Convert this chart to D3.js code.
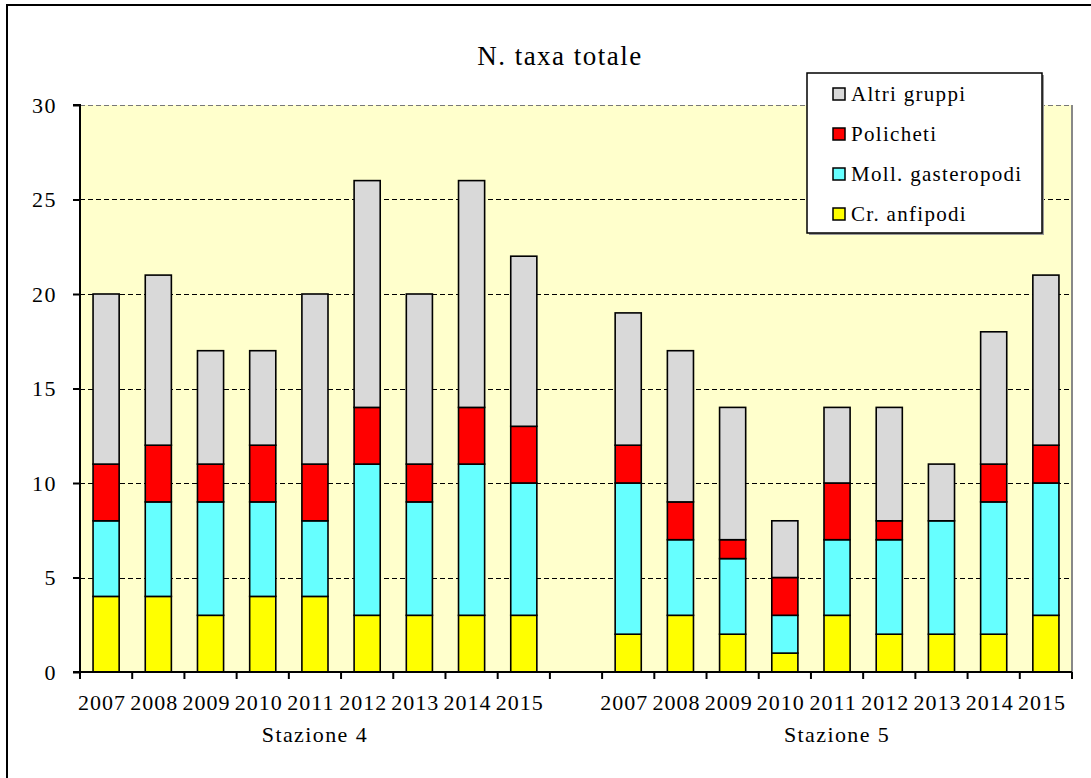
<!DOCTYPE html>
<html>
<head>
<meta charset="utf-8">
<script src="https://cdn.jsdelivr.net/npm/d3@7"></script>
<style>
  html, body { margin: 0; padding: 0; background: #fff; }
  svg { display: block; }
</style>
</head>
<body>
<svg id="chart" width="1091" height="778"></svg>
<script>
// Years per station and slot keys (an empty slot separates the two stations)
const years = ["2007","2008","2009","2010","2011","2012","2013","2014","2015"];
const stations = ["Stazione 4", "Stazione 5"];
const slots = [
  ...years.map(y => "S4-" + y),
  "gap",
  ...years.map(y => "S5-" + y)
];

// Number of taxa per group, Stazione 4 then Stazione 5
const anfipodiS4    = [4, 4, 3, 4, 4, 3, 3, 3, 3];
const gasteropodiS4 = [4, 5, 6, 5, 4, 8, 6, 8, 7];
const polichetiS4   = [3, 3, 2, 3, 3, 3, 2, 3, 3];
const altriS4       = [9, 9, 6, 5, 9, 12, 9, 12, 9];

const anfipodiS5    = [2, 3, 2, 1, 3, 2, 2, 2, 3];
const gasteropodiS5 = [8, 4, 4, 2, 4, 5, 6, 7, 7];
const polichetiS5   = [2, 2, 1, 2, 3, 1, 0, 2, 2];
const altriS5       = [7, 8, 7, 3, 4, 6, 3, 7, 9];

const seriesKeys = ["anfipodi", "gasteropodi", "policheti", "altri"];
const seriesLabels = {
  anfipodi: "Cr. anfipodi",
  gasteropodi: "Moll. gasteropodi",
  policheti: "Policheti",
  altri: "Altri gruppi"
};
const seriesColors = {
  anfipodi: "#FFFF00",
  gasteropodi: "#66FFFF",
  policheti: "#FF0000",
  altri: "#D9D9D9"
};
const yTicks = [0, 5, 10, 15, 20, 25, 30];

// Build the table for d3.stack
const rows = [];
years.forEach((y, i) => rows.push({
  key: "S4-" + y, year: y,
  anfipodi: anfipodiS4[i], gasteropodi: gasteropodiS4[i],
  policheti: polichetiS4[i], altri: altriS4[i]
}));
years.forEach((y, i) => rows.push({
  key: "S5-" + y, year: y,
  anfipodi: anfipodiS5[i], gasteropodi: gasteropodiS5[i],
  policheti: polichetiS5[i], altri: altriS5[i]
}));

const FONT = "Liberation Serif";
const svg = d3.select("#chart");
const plot = { left: 80, right: 1072, top: 105, bottom: 672 };

// Outer frame
svg.append("rect")
  .attr("x", 7).attr("y", 5).attr("width", 1100).attr("height", 790)
  .attr("fill", "#fff").attr("stroke", "#000").attr("stroke-width", 2);

const x = d3.scaleBand().domain(slots).range([plot.left, plot.right]).padding(0);
const y = d3.scaleLinear().domain([0, 30]).range([plot.bottom, plot.top]);

// Plot background
svg.append("rect")
  .attr("x", plot.left).attr("y", plot.top)
  .attr("width", plot.right - plot.left).attr("height", plot.bottom - plot.top)
  .attr("fill", "#FFFFCC");

// Right border of plot area
svg.append("line")
  .attr("x1", plot.right).attr("x2", plot.right)
  .attr("y1", plot.top).attr("y2", plot.bottom)
  .attr("stroke", "#888").attr("stroke-width", 2);

// Dashed gridlines
svg.append("g").selectAll("line")
  .data(yTicks.filter(t => t > 0))
  .join("line")
  .attr("x1", plot.left).attr("x2", plot.right)
  .attr("y1", d => Math.round(y(d)) + 0.5).attr("y2", d => Math.round(y(d)) + 0.5)
  .attr("stroke", d => d === 30 ? "#777" : "#000")
  .attr("stroke-width", 1.2)
  .attr("stroke-dasharray", "5,3");

// Stacked bars
const stacked = d3.stack().keys(seriesKeys)(rows);
const barW = x.bandwidth() * 0.5;

svg.append("g").selectAll("g")
  .data(stacked)
  .join("g")
  .attr("fill", d => seriesColors[d.key])
  .selectAll("rect")
  .data(d => d.filter(p => p[1] - p[0] > 0))
  .join("rect")
  .attr("x", d => x(d.data.key) + (x.bandwidth() - barW) / 2)
  .attr("y", d => y(d[1]))
  .attr("width", barW)
  .attr("height", d => y(d[0]) - y(d[1]))
  .attr("stroke", "#000")
  .attr("stroke-width", 1.6);

// Y axis
const yAxis = d3.axisLeft(y).tickValues(yTicks).tickSize(7).tickPadding(16);
const gy = svg.append("g").attr("transform", `translate(${plot.left},0)`).call(yAxis);
gy.attr("font-family", null).attr("font-size", null);
gy.select(".domain").attr("stroke", "#000").attr("stroke-width", 2)
  .attr("d", `M-7,${plot.top}H0V${plot.bottom}`);
gy.selectAll(".tick line").attr("stroke", "#000").attr("stroke-width", 2);
gy.selectAll(".tick text")
  .attr("font-family", FONT).attr("font-size", 22)
  .attr("letter-spacing", "1.5px")
  .attr("fill", "#000")
  .attr("dy", "0.32em");

// X axis: baseline with ticks at slot boundaries
const gx = svg.append("g");
gx.append("line")
  .attr("x1", plot.left - 7).attr("x2", plot.right)
  .attr("y1", plot.bottom).attr("y2", plot.bottom)
  .attr("stroke", "#000").attr("stroke-width", 2);
const boundaries = slots.map(s => x(s)).concat([plot.right]);
gx.selectAll("line.tick")
  .data(boundaries)
  .join("line")
  .attr("class", "tick")
  .attr("x1", d => d).attr("x2", d => d)
  .attr("y1", plot.bottom).attr("y2", plot.bottom + 7)
  .attr("stroke", "#000").attr("stroke-width", 2);

// Year labels
gx.selectAll("text.year")
  .data(rows)
  .join("text")
  .attr("class", "year")
  .attr("x", d => x(d.key) + x.bandwidth() / 2 - 4)
  .attr("y", 710)
  .attr("text-anchor", "middle")
  .attr("font-family", FONT)
  .attr("font-size", 22)
  .attr("letter-spacing", "1px")
  .text(d => d.year);

// Station labels, centered under each group of years
const stationCenters = [
  (x("S4-2007") + x("S4-2015") + x.bandwidth()) / 2,
  (x("S5-2007") + x("S5-2015") + x.bandwidth()) / 2
];
gx.selectAll("text.station")
  .data(stations)
  .join("text")
  .attr("class", "station")
  .attr("x", (d, i) => stationCenters[i])
  .attr("y", 742)
  .attr("text-anchor", "middle")
  .attr("font-family", FONT)
  .attr("font-size", 22)
  .attr("letter-spacing", "1.4px")
  .text(d => d);

// Title
svg.append("text")
  .attr("x", 560).attr("y", 65)
  .attr("text-anchor", "middle")
  .attr("font-family", FONT)
  .attr("font-size", 27)
  .attr("letter-spacing", "1.5px")
  .text("N. taxa totale");

// Legend
const legend = svg.append("g");
legend.append("rect")
  .attr("x", 809).attr("y", 75).attr("width", 235).attr("height", 160)
  .attr("fill", "#999");
legend.append("rect")
  .attr("x", 807).attr("y", 73).attr("width", 235).attr("height", 160)
  .attr("fill", "#fff").attr("stroke", "#000").attr("stroke-width", 1.5);
const legendOrder = ["altri", "policheti", "gasteropodi", "anfipodi"];
const li = legend.selectAll("g.item")
  .data(legendOrder)
  .join("g")
  .attr("class", "item")
  .attr("transform", (d, i) => `translate(833,${94 + i * 40})`);
li.append("rect")
  .attr("x", 0).attr("y", -6).attr("width", 12).attr("height", 12)
  .attr("fill", d => seriesColors[d])
  .attr("stroke", "#000").attr("stroke-width", 1.5);
li.append("text")
  .attr("x", 18).attr("y", 0).attr("dy", "0.33em")
  .attr("font-family", FONT)
  .attr("font-size", 21)
  .attr("letter-spacing", "1.3px")
  .text(d => seriesLabels[d]);
</script>
</body>
</html>
